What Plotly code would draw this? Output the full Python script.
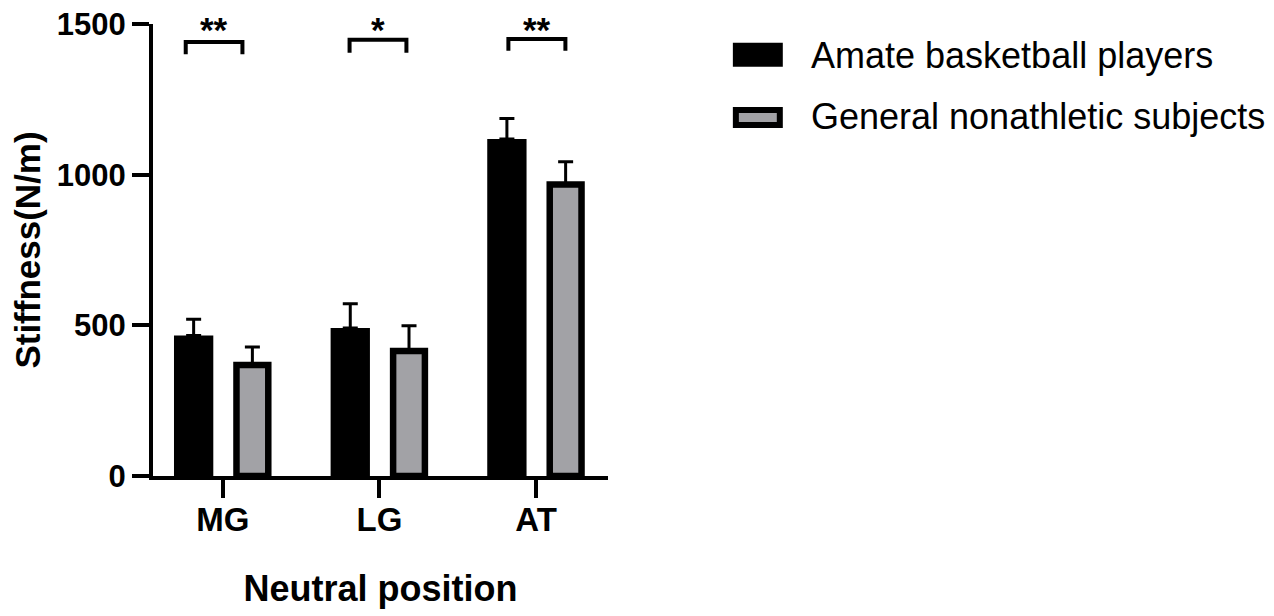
import plotly.graph_objects as go

# ---- data ----
categories = ["MG", "LG", "AT"]
athletes_mean = [466, 491, 1118]
athletes_sd = [54, 81, 68]
general_mean = [368, 415, 967]
general_sd = [60, 84, 76]
significance = ["**", "*", "**"]
bracket_left = [-0.237, -0.191, -0.177]
bracket_right = [0.125, 0.172, 0.187]
bracket_top = [1440, 1448, 1450]
bracket_bottom = [1400, 1405, 1411]
y_ticks = [0, 500, 1000, 1500]
legend_labels = ["Amate basketball players", "General nonathletic subjects"]

FONT = "Liberation Sans, Arial, sans-serif"
GRAY = "#a2a2a6"
xpos = list(range(len(categories)))

# page body adds an 8px offset; plot area in the screenshot: x 152.5..608, y 24..476
OFF = 8
L, R, T, B = 152.5 - OFF, 608 - OFF, 24 - OFF, 476 - OFF
W, H = R - L, B - T

fig = go.Figure()

fig.add_trace(go.Bar(
    x=xpos, y=athletes_mean, name=legend_labels[0],
    offset=-0.312, width=0.251,
    marker=dict(color="black", line=dict(width=0)),
    error_y=dict(type="data", array=athletes_sd, arrayminus=[0] * 3,
                 symmetric=False, color="black", thickness=3, width=7.5),
    showlegend=False,
))
fig.add_trace(go.Bar(
    x=xpos, y=general_mean, name=legend_labels[1],
    offset=0.087, width=0.203,
    marker=dict(color=GRAY, line=dict(color="black", width=6.5)),
    error_y=dict(type="data", array=general_sd, arrayminus=[0] * 3,
                 symmetric=False, color="black", thickness=3, width=7.5),
    showlegend=False,
))

shapes = []
annotations = []
for i, s in enumerate(significance):
    x0 = xpos[i] + bracket_left[i]
    x1 = xpos[i] + bracket_right[i]
    shapes.append(dict(
        type="path", xref="x", yref="y",
        path=f"M {x0},{bracket_bottom[i]} L {x0},{bracket_top[i]} L {x1},{bracket_top[i]} L {x1},{bracket_bottom[i]}",
        line=dict(color="black", width=4),
    ))
    annotations.append(dict(
        x=(x0 + x1) / 2, y=1 + (T - 0.5) / H, xref="x", yref="paper",
        text=s, showarrow=False, yanchor="top",
        font=dict(family=FONT, size=35, color="black", weight="bold"),
    ))

# manual legend (plot-area paper coordinates, from screenshot pixels)
def px(x):
    return (x - 152.5) / W
def py(y):
    return (476 - y) / H

shapes.append(dict(type="rect", xref="paper", yref="paper",
                   x0=px(733), x1=px(783), y0=py(66.7), y1=py(42.7),
                   fillcolor="black", line=dict(width=0)))
shapes.append(dict(type="rect", xref="paper", yref="paper",
                   x0=px(736), x1=px(780), y0=py(125), y1=py(110),
                   fillcolor=GRAY, line=dict(color="black", width=6)))
for lab, yc in zip(legend_labels, [55, 116.5]):
    annotations.append(dict(
        x=px(809), y=py(yc), xref="paper", yref="paper",
        text=lab, showarrow=False, xanchor="left", yanchor="middle",
        font=dict(family=FONT, size=36, color="black"),
    ))

fig.update_layout(
    width=1274, height=616,
    margin=dict(l=L, r=1274 - R, t=T, b=616 - B, pad=0, autoexpand=False),
    paper_bgcolor="white", plot_bgcolor="white",
    barmode="overlay",
    font=dict(family=FONT, color="black"),
    shapes=shapes, annotations=annotations,
    xaxis=dict(
        range=[-0.446, 2.459], tickvals=xpos, ticktext=categories,
        showline=True, linecolor="black", linewidth=4,
        ticks="outside", ticklen=18, tickwidth=4, tickcolor="black",
        showgrid=False, zeroline=False, automargin=False,
        ticklabelstandoff=-7,
        tickfont=dict(family=FONT, size=33, color="black", weight="bold"),
        title=dict(text="Neutral position", standoff=40,
                   font=dict(family=FONT, size=36, color="black", weight="bold")),
    ),
    yaxis=dict(
        range=[0, 1500], tickvals=y_ticks,
        showline=True, linecolor="black", linewidth=4,
        ticks="outside", ticklen=17, tickwidth=4, tickcolor="black",
        showgrid=False, zeroline=False, automargin=False,
        ticklabeloverflow="allow",
        tickfont=dict(family=FONT, size=31, color="black", weight="bold"),
        title=dict(text="Stiffness(N/m)", standoff=32,
                   font=dict(family=FONT, size=35, color="black", weight="bold")),
    ),
)

fig.write_html("out.html")
